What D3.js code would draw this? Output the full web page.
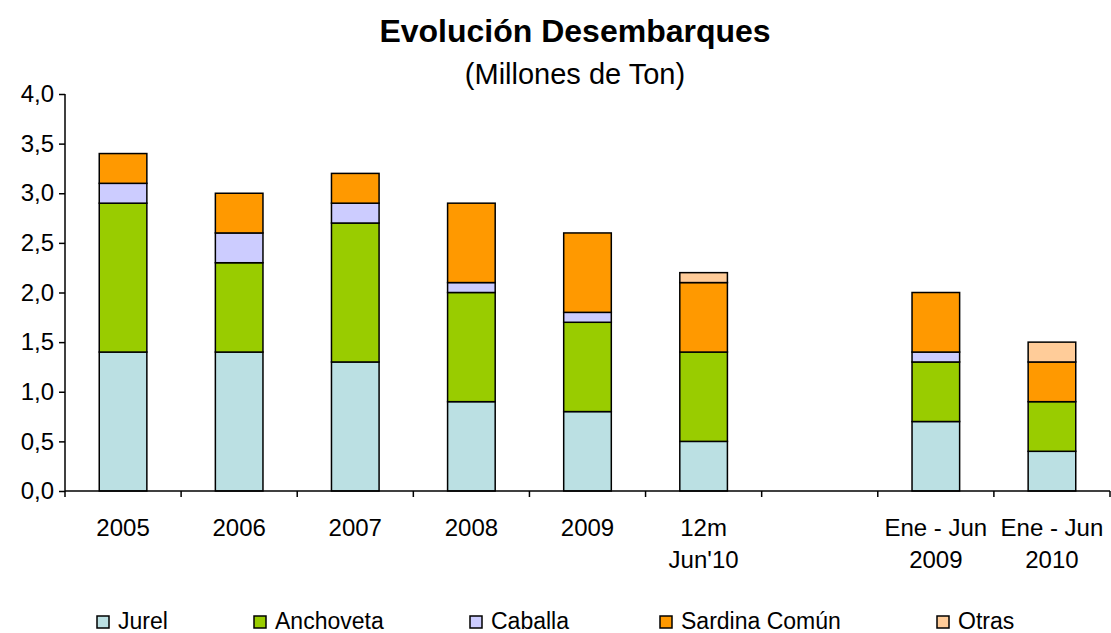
<!DOCTYPE html>
<meta charset="utf-8">
<style>
body { margin: 0; background: #fff; }
text { font-family: "Liberation Sans", Arial, sans-serif; fill: #000; }
.axis path, .axis line { stroke: #000; stroke-width: 1.5px; }
.axis text { font-size: 24px; }
</style>
<body>
<script src="https://d3js.org/d3.v7.min.js"></script>
<script>
// data (millones de ton)
var categories = ["2005", "2006", "2007", "2008", "2009", "12m|Jun'10", "", "Ene - Jun|2009", "Ene - Jun|2010"];
var seriesNames = ["Jurel", "Anchoveta", "Caballa", "Sardina Común", "Otras"];
var jurel     = [1.4, 1.4, 1.3, 0.9, 0.8, 0.5, 0, 0.7, 0.4];
var anchoveta = [1.5, 0.9, 1.4, 1.1, 0.9, 0.9, 0, 0.6, 0.5];
var caballa   = [0.2, 0.3, 0.2, 0.1, 0.1, 0.0, 0, 0.1, 0.0];
var sardina   = [0.3, 0.4, 0.3, 0.8, 0.8, 0.7, 0, 0.6, 0.4];
var otras     = [0.0, 0.0, 0.0, 0.0, 0.0, 0.1, 0, 0.0, 0.2];
var yTicks = [0, 0.5, 1, 1.5, 2, 2.5, 3, 3.5, 4];
var colors = ["#BBE0E3", "#99CC00", "#CCCCFF", "#FF9900", "#FFCC99"];

var W = 1111, H = 633;
var margin = { top: 94, left: 65, right: 1, bottom: 142 };
var width = W - margin.left - margin.right,
    height = H - margin.top - margin.bottom;

var svg = d3.select("body").append("svg")
    .attr("width", W)
    .attr("height", H);

// title
svg.append("text")
    .attr("x", 575).attr("y", 42)
    .attr("text-anchor", "middle")
    .style("font-size", "32px").style("font-weight", "bold")
    .text("Evolución Desembarques");
svg.append("text")
    .attr("x", 575).attr("y", 84)
    .attr("text-anchor", "middle")
    .style("font-size", "29px")
    .text("(Millones de Ton)");

var g = svg.append("g")
    .attr("transform", "translate(" + margin.left + "," + margin.top + ")");

var x = d3.scaleBand().domain(d3.range(categories.length)).range([0, width]).paddingInner(0.59).paddingOuter(0.295);
var y = d3.scaleLinear().domain([0, 4]).range([height, 0]);

// build table for stacking
var table = categories.map(function(c, i) {
    return { i: i, Jurel: jurel[i], Anchoveta: anchoveta[i], Caballa: caballa[i], "Sardina Común": sardina[i], Otras: otras[i] };
});
var stacked = d3.stack().keys(seriesNames)(table);

stacked.forEach(function(layer, k) {
    g.append("g").selectAll("rect")
        .data(layer.filter(function(d) { return d[1] - d[0] > 0; }))
        .enter().append("rect")
        .attr("x", function(d) { return x(d.data.i); })
        .attr("width", x.bandwidth())
        .attr("y", function(d) { return y(d[1]); })
        .attr("height", function(d) { return y(d[0]) - y(d[1]); })
        .attr("fill", colors[k])
        .attr("stroke", "#000")
        .attr("stroke-width", 1.5);
});

// y axis
g.append("g").attr("class", "axis")
    .call(d3.axisLeft(y).tickValues(yTicks).tickSize(6).tickPadding(5)
        .tickFormat(function(d) { return d3.format(".1f")(d).replace(".", ","); }))
    .call(function(a) { a.select(".domain").attr("d", "M0,0V" + height); });

// x axis: line plus boundary ticks
var xa = g.append("g").attr("class", "axis").attr("transform", "translate(0," + height + ")");
xa.append("line").attr("x1", 0).attr("x2", width).attr("y1", 0).attr("y2", 0);
var step = x.step();
xa.selectAll(".bt").data(d3.range(categories.length + 1)).enter().append("line")
    .attr("x1", function(d) { return d * step; })
    .attr("x2", function(d) { return d * step; })
    .attr("y1", 0).attr("y2", 6);

// x labels (two-line where needed)
categories.forEach(function(c, i) {
    var lines = c.split("|");
    var t = xa.append("text")
        .attr("text-anchor", "middle")
        .attr("x", x(i) + x.bandwidth() / 2)
        .attr("y", 45);
    lines.forEach(function(s, j) {
        t.append("tspan")
            .attr("x", x(i) + x.bandwidth() / 2)
            .attr("dy", j === 0 ? 0 : 32)
            .text(s);
    });
});

// legend
var legendX = [97, 254, 470, 660, 937];
var leg = svg.append("g");
seriesNames.forEach(function(s, k) {
    leg.append("rect")
        .attr("x", legendX[k]).attr("y", 616)
        .attr("width", 12).attr("height", 12)
        .attr("fill", colors[k]).attr("stroke", "#000").attr("stroke-width", 1.5);
    leg.append("text")
        .attr("x", legendX[k] + 21).attr("y", 629)
        .style("font-size", "23px")
        .text(s);
});
</script>
</body>
